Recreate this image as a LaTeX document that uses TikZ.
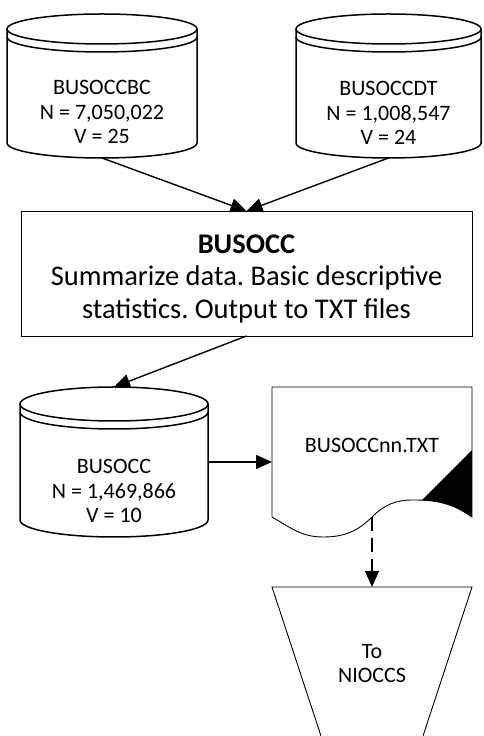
\documentclass[tikz,border=0pt]{standalone}
\usepackage{fontspec}
\setmainfont{Carlito}
\usetikzlibrary{arrows.meta}
\frenchspacing

% database drum drawn round an empty node: node, x radius, y radius
\newcommand{\dbcyl}[3]{%
  \draw[dbline] ([yshift=-#3pt]#1.north west) -- ([yshift=#3pt]#1.south west)
    arc[start angle=180, end angle=360, x radius=#2pt, y radius=#3pt]
    -- ([yshift=-#3pt]#1.north east);
  \draw[dbline] ([yshift=-#3pt]#1.north) ellipse[x radius=#2pt, y radius=#3pt];
  \draw[dbline] ([yshift=-#3pt-8pt]#1.north west)
    arc[start angle=180, end angle=360, x radius=#2pt, y radius=#3pt];
}
\newcommand{\docoutline}{(doc.south east) -- (doc.north east) -- (doc.north west) -- (doc.south west)
  to[out=-30,in=180] ++(51,-20) to[out=0,in=225] ++(49,20)
  to[out=45,in=180] ++(41,17) to[out=0,in=145] ++(59,-17) -- cycle}

\begin{document}
\begin{tikzpicture}[
    x=1pt, y=1pt,
    dbline/.style={line width=1.5pt},
    thinline/.style={line width=0.9pt},
    dbnode/.style={inner sep=0pt, outer sep=0pt},
    dbtext/.style={font=\fontsize{22pt}{24.5pt}\selectfont, align=center},
    procbox/.style={draw, line width=0.9pt, inner sep=0pt, outer sep=0pt,
      minimum width=451pt, minimum height=125pt},
    proctext/.style={align=center, font=\fontsize{28.5pt}{32.5pt}\selectfont},
    flow/.style={line width=1.4pt, -{Triangle[length=16pt,width=14pt]}}
  ]
  \useasboundingbox (0,0) rectangle (483,736);

  % input files
  \node[dbnode, minimum width=190pt, minimum height=144pt] (bc) at (102,650) {};
  \node[dbnode, minimum width=185pt, minimum height=144pt] (dt) at (388.5,650) {};
  \dbcyl{bc}{95}{15}
  \dbcyl{dt}{92.5}{15}
  \node[dbtext] (bc-txt) at (102,624) {BUSOCCBC\\N = 7,050,022\\V = 25};
  \node[dbtext] (dt-txt) at (388.5,623) {BUSOCCDT\\N = 1,008,547\\V = 24};

  % program
  \node[procbox] (busocc) at (246.5,462.5) {};
  \node[proctext] (busocc-txt) at ([yshift=-5pt]busocc.center)
    {\textbf{BUSOCC}\\Summarize data. Basic descriptive\\statistics. Output to TXT files};

  % output file
  \node[dbnode, minimum width=188pt, minimum height=150pt] (occ) at (114,274) {};
  \dbcyl{occ}{94}{17}
  \node[dbtext] (occ-txt) at (114,245) {BUSOCC\\N = 1,469,866\\V = 10};

  % text output
  \node[dbnode, minimum width=200pt, minimum height=130pt] (doc) at (372,284) {};
  \begin{scope}
    \clip \docoutline;
    \fill ([yshift=67pt]doc.south east) -- ++(-92,-92) -- ++(92,0) -- cycle;
  \end{scope}
  \draw[thinline] \docoutline;
  \node[dbtext] (doc-txt) at (372,291) {BUSOCCnn.TXT};

  % off page
  \coordinate (nioccs-top) at (372,149);
  \draw[thinline] (nioccs-top) ++(-51,-149) -- ++(-49,149) -- ++(200,0) -- ++(-49,-149);
  \node[dbtext] (nioccs) at (372,72.5) {To\\NIOCCS};

  \draw[flow] (bc.south) -- (busocc.north);
  \draw[flow] (dt.south) -- (busocc.north);
  \draw[flow] (busocc.south) -- (occ.north);
  \draw[flow] (occ.east) -- (doc.west |- occ.east);
  \draw[flow, dash pattern=on 14pt off 7pt] (doc.south) -- (nioccs-top);
\end{tikzpicture}
\end{document}
